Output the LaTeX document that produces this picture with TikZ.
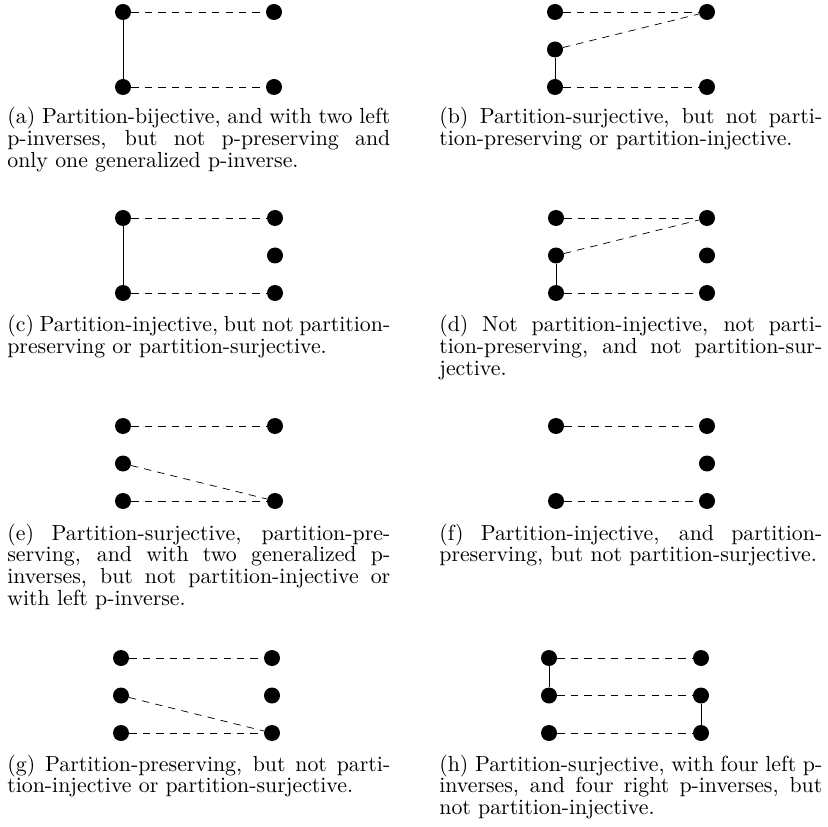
\documentclass[tikz,border=0pt]{standalone}
\usepackage{graphicx}
\newlength\capw \setlength\capw{175.5pt}
\newsavebox\jlbox
\newcommand\jl[1]{\sbox\jlbox{#1}\ifdim\wd\jlbox>\dimexpr\capw+4pt\relax\resizebox{\capw}{\height}{#1}\else\makebox[\capw][s]{#1}\fi}
\newcommand\captxt[1]{\scalebox{1.2}{\parbox[t]{\capw}{\fontsize{10}{10.08}\selectfont\raggedright #1}}}
\begin{document}
\begin{tikzpicture}[x=0.55pt,y=-0.55pt,
  dot/.style={circle,fill=black,inner sep=0pt,minimum size=8.8pt},
  pdash/.style={dash pattern=on 4pt off 3.4pt, line width=0.4pt},
  psolid/.style={line width=0.4pt},
  captext/.style={anchor=base west,inner sep=0pt}]
\useasboundingbox (0,0) rectangle (828,827);
% (a)
\node[dot] (aL1) at (123,12) {};
\node[dot] (aL2) at (123,87) {};
\node[dot] (aR1) at (274,12) {};
\node[dot] (aR2) at (274,87) {};
\draw[psolid] (aL1) -- (aL2);
\draw[pdash] (aL1) -- (aR1);
\draw[pdash] (aL2) -- (aR2);
\node[captext] (capa) at (7,124) {\captxt{\jl{(a) Partition-bijective, and with two left}\\\jl{p-inverses, but not p-preserving and}\\only one generalized p-inverse.}};
% (b)
\node[dot] (bL1) at (555,12) {};
\node[dot] (bL2) at (555,49.5) {};
\node[dot] (bL3) at (555,87) {};
\node[dot] (bR1) at (707,12) {};
\node[dot] (bR3) at (707,87) {};
\draw[psolid] (bL2) -- (bL3);
\draw[pdash] (bL1) -- (bR1);
\draw[pdash] (bL2) -- (bR1);
\draw[pdash] (bL3) -- (bR3);
\node[captext] (capb) at (439,124) {\captxt{\jl{(b) Partition-surjective, but not parti-}\\tion-preserving or partition-injective.}};
% (c)
\node[dot] (cL1) at (123,218) {};
\node[dot] (cL3) at (123,293) {};
\node[dot] (cR1) at (275,218) {};
\node[dot] (cR2) at (275,255.5) {};
\node[dot] (cR3) at (275,293) {};
\draw[psolid] (cL1) -- (cL3);
\draw[pdash] (cL1) -- (cR1);
\draw[pdash] (cL3) -- (cR3);
\node[captext] (capc) at (7,332) {\captxt{\jl{(c) Partition-injective, but not partition-}\\preserving or partition-surjective.}};
% (d)
\node[dot] (dL1) at (556,218) {};
\node[dot] (dL2) at (556,255.5) {};
\node[dot] (dL3) at (556,293) {};
\node[dot] (dR1) at (707,218) {};
\node[dot] (dR2) at (707,255.5) {};
\node[dot] (dR3) at (707,293) {};
\draw[psolid] (dL2) -- (dL3);
\draw[pdash] (dL1) -- (dR1);
\draw[pdash] (dL2) -- (dR1);
\draw[pdash] (dL3) -- (dR3);
\node[captext] (capd) at (439,332) {\captxt{\jl{(d) Not partition-injective, not parti-}\\\jl{tion-preserving, and not partition-sur-}\\jective.}};
% (e)
\node[dot] (eL1) at (123,426) {};
\node[dot] (eL2) at (123,463.5) {};
\node[dot] (eL3) at (123,501) {};
\node[dot] (eR1) at (275,426) {};
\node[dot] (eR3) at (275,501) {};
\draw[pdash] (eL1) -- (eR1);
\draw[pdash] (eL2) -- (eR3);
\draw[pdash] (eL3) -- (eR3);
\node[captext] (cape) at (7,540) {\captxt{\jl{(e) Partition-surjective, partition-pre-}\\\jl{serving, and with two generalized p-}\\\jl{inverses, but not partition-injective or}\\with left p-inverse.}};
% (f)
\node[dot] (fL1) at (556,426) {};
\node[dot] (fL3) at (556,501) {};
\node[dot] (fR1) at (707,426) {};
\node[dot] (fR2) at (707,463.5) {};
\node[dot] (fR3) at (707,501) {};
\draw[pdash] (fL1) -- (fR1);
\draw[pdash] (fL3) -- (fR3);
\node[captext] (capf) at (439,540) {\captxt{\jl{(f) Partition-injective, and partition-}\\preserving, but not partition-surjective.}};
% (g)
\node[dot] (gL1) at (121,658) {};
\node[dot] (gL2) at (121,695.5) {};
\node[dot] (gL3) at (121,733) {};
\node[dot] (gR1) at (272,658) {};
\node[dot] (gR2) at (272,695.5) {};
\node[dot] (gR3) at (272,733) {};
\draw[pdash] (gL1) -- (gR1);
\draw[pdash] (gL2) -- (gR3);
\draw[pdash] (gL3) -- (gR3);
\node[captext] (capg) at (7,771) {\captxt{\jl{(g) Partition-preserving, but not parti-}\\tion-injective or partition-surjective.}};
% (h)
\node[dot] (hL1) at (549,658) {};
\node[dot] (hL2) at (549,695.5) {};
\node[dot] (hL3) at (549,733) {};
\node[dot] (hR1) at (701,658) {};
\node[dot] (hR2) at (701,695.5) {};
\node[dot] (hR3) at (701,733) {};
\draw[psolid] (hL1) -- (hL2);
\draw[psolid] (hR2) -- (hR3);
\draw[pdash] (hL1) -- (hR1);
\draw[pdash] (hL2) -- (hR2);
\draw[pdash] (hL3) -- (hR3);
\node[captext] (caph) at (439,771) {\captxt{\jl{(h) Partition-surjective, with four left p-}\\\jl{inverses, and four right p-inverses, but}\\not partition-injective.}};
\end{tikzpicture}
\end{document}
